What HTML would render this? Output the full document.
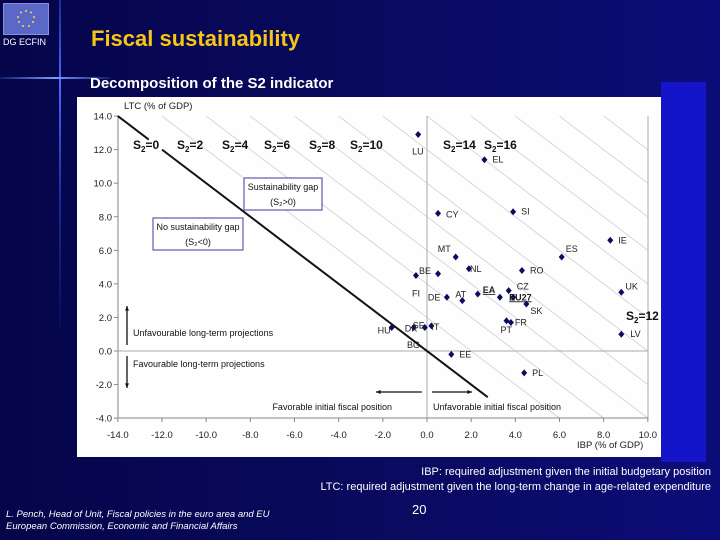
<!DOCTYPE html>
<html style="margin:0;width:720px;height:540px;overflow:hidden"><head><meta charset="utf-8"><style>
html,body{margin:0;padding:0}
body{width:720px;height:540px;overflow:hidden;background:#06064f;font-family:"Liberation Sans",sans-serif;position:relative}
.bg{position:absolute;left:0;top:0;width:720px;height:540px;background:linear-gradient(90deg,#05054a 0%,#0a0a62 60%,#0c0c78 100%)}
.t{position:absolute;white-space:nowrap}
</style></head><body>
<div class="bg"></div>
<div class="t" style="left:59px;top:0;width:2px;height:330px;background:linear-gradient(#1a2a9a,#4a6aff 25%,#1a2a9a 60%,rgba(20,30,140,0.2))"></div>
<div class="t" style="left:0;top:77px;width:110px;height:2px;background:linear-gradient(90deg,rgba(80,110,255,.2),#7a9aff 50%,rgba(80,110,255,.2))"></div>
<div class="t" style="left:3px;top:3px;width:44px;height:30px;background:#5a68c8;border:1px solid #8a90d8">
<svg width="44" height="30"><g fill="#ffd84a"><circle cx="22" cy="7" r="1"/><circle cx="27" cy="8.5" r="1"/><circle cx="30" cy="13" r="1"/><circle cx="29" cy="18" r="1"/><circle cx="25" cy="22" r="1"/><circle cx="19" cy="22" r="1"/><circle cx="15" cy="18" r="1"/><circle cx="14" cy="13" r="1"/><circle cx="17" cy="8.5" r="1"/></g></svg></div>
<div class="t" style="left:3px;top:37px;font-size:9px;color:#fff">DG ECFIN</div>
<div class="t" style="left:91px;top:26px;font-size:22px;font-weight:bold;color:#f5c518">Fiscal sustainability</div>
<div class="t" style="left:90px;top:75px;font-size:15px;font-weight:bold;color:#fff">Decomposition of the S2 indicator</div>
<div class="t" style="left:661px;top:82px;width:45px;height:380px;background:#1414c8"></div>

<svg class="t" style="left:0;top:0;display:block" width="720" height="540" id="chart"></svg>

<div class="t" style="right:9px;top:466px;font-size:11px;color:#fff">IBP: required adjustment given the initial budgetary position</div>
<div class="t" style="right:9px;top:481px;font-size:11px;color:#fff">LTC: required adjustment given the long-term change in age-related expenditure</div>
<div class="t" style="left:6px;top:509px;font-size:9.5px;line-height:11px;font-style:italic;color:#fff">L. Pench, Head of Unit, Fiscal policies in the euro area and EU</div>
<div class="t" style="left:6px;top:521px;font-size:9.5px;line-height:11px;font-style:italic;color:#fff">European Commission, Economic and Financial Affairs</div>
<div class="t" style="left:412px;top:502px;font-size:13px;color:#fff">20</div>

<script>
const countries=["LU","EL","CY","SI","IE","ES","MT","NL","BE","FI","RO","UK","DE","AT","EA","CZ","EU27","SK","FR","PT","HU","DK","SE","IT","LV","EE","PL","X"];
const ibp=[-0.4,2.6,0.5,3.9,8.3,6.1,1.3,1.9,0.5,-0.5,4.3,8.8,0.9,1.6,2.3,3.7,3.9,4.5,3.8,3.6,-1.6,-0.6,-0.1,0.2,8.8,1.1,4.4,3.3];
const ltc=[12.9,11.4,8.2,8.3,6.6,5.6,5.6,4.9,4.6,4.5,4.8,3.5,3.2,3.0,3.4,3.6,3.2,2.8,1.7,1.8,1.4,1.4,1.4,1.5,1.0,-0.2,-1.3,3.2];
const xTicks=[-14,-12,-10,-8,-6,-4,-2,0,2,4,6,8,10];
const yTicks=[14,12,10,8,6,4,2,0,-2,-4];
const s2Levels=[2,4,6,8,10,12,14,16,18,20,22,24];
const X=v=>427+v*22.083, Y=v=>351-v*16.78;
const L=118,R=648,T=116,B=418;
const svg=document.getElementById('chart');
const NS='http://www.w3.org/2000/svg';
function el(t,a,txt){const e=document.createElementNS(NS,t);for(const k in a)e.setAttribute(k,a[k]);if(txt!=null)e.textContent=txt;svg.appendChild(e);return e;}
let e=el('rect',{x:77,y:97,width:584,height:360,fill:'#fefefe'});


s2Levels.forEach(c=>{
// line y = c - x within x in [-14,10], y in [-4,14]
const xa=Math.max(-14,c-14), xb=Math.min(10,c+4);
if(xb<=xa)return;
const l=el('line',{x1:X(xa),y1:Y(c-xa),x2:X(xb),y2:Y(c-xb),stroke:'#cfcfcf','stroke-width':0.8});

});
e=el('line',{x1:L,y1:T,x2:L,y2:B,stroke:'#888'});
e=el('line',{x1:L,y1:B,x2:R,y2:B,stroke:'#888'});
el('line',{x1:R,y1:T,x2:R,y2:B,stroke:'#aaa'});
e=el('line',{x1:X(0),y1:T,x2:X(0),y2:B,stroke:'#aaa'});
e=el('line',{x1:L,y1:Y(0),x2:R,y2:Y(0),stroke:'#aaa'});
xTicks.forEach(v=>{el('line',{x1:X(v),y1:B,x2:X(v),y2:B+4,stroke:'#888'});
e=el('text',{x:X(v),y:B+20,'font-size':9.5,'text-anchor':'middle',fill:'#222'},v.toFixed(1));
});
yTicks.forEach(v=>{el('line',{x1:L-4,y1:Y(v),x2:L,y2:Y(v),stroke:'#888'});
e=el('text',{x:L-6,y:Y(v)+3.5,'font-size':9.5,'text-anchor':'end',fill:'#222'},v.toFixed(1));
});
e=el('text',{x:124,y:109,'font-size':9.5,fill:'#222'},'LTC (% of GDP)');
e=el('text',{x:577,y:448,'font-size':9.5,fill:'#222'},'IBP (% of GDP)');
e=el('line',{x1:X(-14),y1:Y(14),x2:X(-12.6),y2:Y(12.6),stroke:'#111','stroke-width':2});
e=el('line',{x1:X(-12),y1:Y(12),x2:X(2.75),y2:Y(-2.75),stroke:'#111','stroke-width':2});
[["0",133,149],["2",177,149],["4",222,149],["6",264,149],["8",309,149],["10",350,149],["14",443,149],["16",484,149],["12",626,320]].forEach(a=>{
const t=el('text',{x:a[1],y:a[2],'font-size':12,'font-weight':'bold',fill:'#111'});
t.innerHTML='S<tspan font-size="8" dy="3">2</tspan><tspan dy="-3">='+a[0]+'</tspan>';
});
e=el('rect',{x:244,y:178,width:78,height:32,fill:'#fff',stroke:'#3a3aa0'});
el('text',{x:283,y:190,'font-size':9,'text-anchor':'middle',fill:'#111'},'Sustainability gap');
el('text',{x:283,y:205,'font-size':9,'text-anchor':'middle',fill:'#111'},'(S\u2082>0)');
e=el('rect',{x:153,y:218,width:90,height:32,fill:'#fff',stroke:'#3a3aa0'});
el('text',{x:198,y:230,'font-size':9,'text-anchor':'middle',fill:'#111'},'No sustainability gap');
el('text',{x:198,y:245,'font-size':9,'text-anchor':'middle',fill:'#111'},'(S\u2082<0)');
function arrow(x1,y1,x2,y2,n){const a=el('line',{x1,y1,x2,y2,stroke:'#111','stroke-width':1.3});
const ang=Math.atan2(y2-y1,x2-x1),h=5;el('polygon',{points:`${x2},${y2} ${x2-h*Math.cos(ang-0.4)},${y2-h*Math.sin(ang-0.4)} ${x2-h*Math.cos(ang+0.4)},${y2-h*Math.sin(ang+0.4)}`,fill:'#111'});}
arrow(127,345,127,306,'unfavourable-arrow');arrow(127,356,127,388,'favourable-arrow');
arrow(422,392,376,392,'favorable-arrow');arrow(432,392,472,392,'unfavorable-arrow');
[['Unfavourable long-term projections',133,336,'start'],['Favourable long-term projections',133,367,'start'],['Favorable initial fiscal position',392,410,'end'],['Unfavorable initial fiscal position',433,410,'start']].forEach(a=>{
const t=el('text',{x:a[1],y:a[2],'font-size':9,'text-anchor':a[3],fill:'#111'},a[0]);});
const off={LU:[-6,20],EL:[8,3],CY:[8,4],SI:[8,3],IE:[8,3],ES:[4,-5],MT:[-18,-5],NL:[1,3],BE:[-19,0],FI:[-4,21],RO:[8,3],UK:[4,-3],DE:[-19,3],AT:[-7,-3],EA:[5,-1],CZ:[8,-1],EU27:[-4,3],SK:[4,10],FR:[4,3],PT:[-6,12],HU:[-14,6],DK:[-9,4],SE:[-12,1],IT:[0,4],LV:[9,3],EE:[8,3],PL:[8,3]};
countries.forEach((c,i)=>{const x=X(ibp[i]),y=Y(ltc[i]);
const p=el('polygon',{points:`${x},${y-3.5} ${x+3},${y} ${x},${y+3.5} ${x-3},${y}`,fill:'#0b0b60'});


if(off[c]){const t=el('text',{x:x+off[c][0],y:y+off[c][1],'font-size':9,fill:'#222','text-decoration':(c=='EA'||c=='EU27')?'underline':'none','font-weight':(c=='EA'||c=='EU27')?'bold':'normal'},c);

}});
e=el('text',{x:407,y:348,'font-size':9,fill:'#222'},'BG');
</script>
</body></html>
